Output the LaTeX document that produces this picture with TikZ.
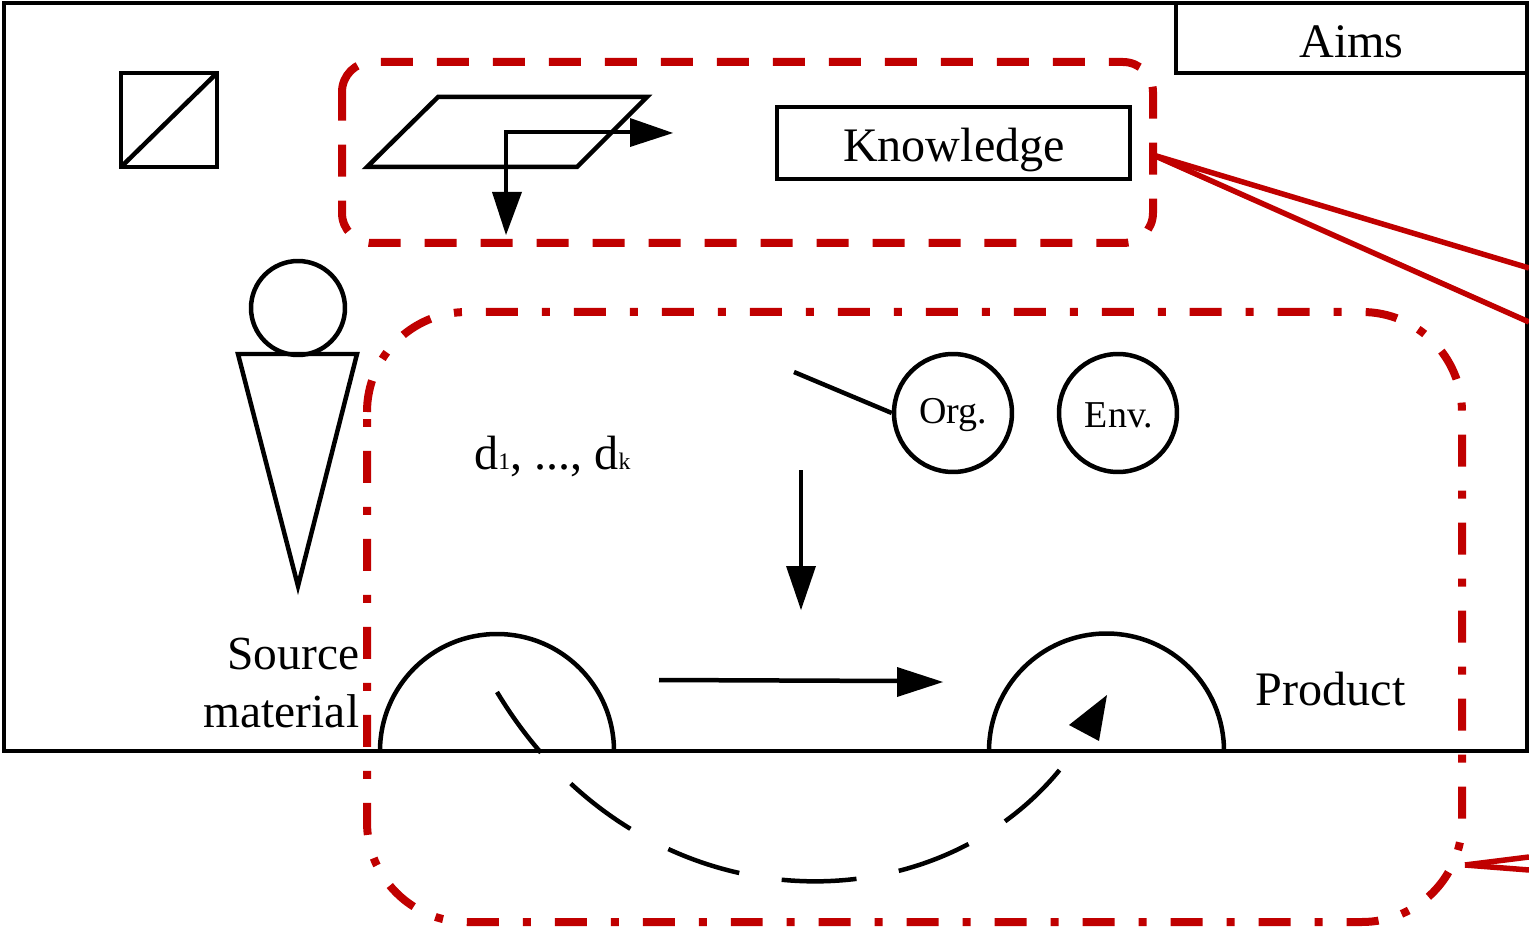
\documentclass[tikz,border=0pt]{standalone}
\usepackage{fontspec}
\setmainfont{Liberation Serif}
\tikzset{
  boxline/.style={draw=black,line width=0.09cm},
  dashbox/.style={draw=redline,line width=0.16cm,dash pattern=on 0.64cm off 0.48cm},
  dotbox/.style={draw=redline,line width=0.16cm,dash pattern=on 0.64cm off 0.48cm on 0.16cm off 0.48cm},
  redlead/.style={draw=redline,line width=0.11cm},
  bigtext/.style={font=\fontsize{27.4}{33}\selectfont},
  sidetext/.style={font=\fontsize{27}{33}\selectfont},
  smalltext/.style={font=\fontsize{21.6}{25}\selectfont}
}
\definecolor{redline}{RGB}{192,0,0}
\newcommand{\subtext}[1]{{\fontsize{13.5}{13.5}\selectfont #1}}
\begin{document}
\begin{tikzpicture}[x=0.02cm,y=0.02cm]
\tikzstyle{every node}+=[inner sep=0pt]
\useasboundingbox (0,0) rectangle (1529,-929);
\node (frame) [boxline,minimum width=30.46cm,minimum height=14.96cm] at (765.5,-377) {};
\node (aims) [boxline,minimum width=7.02cm,minimum height=1.4cm] at (1351.5,-38) {};
\node (aimstext) [bigtext] at (1351.5,-42) {Aims};
\node (knowledge) [boxline,minimum width=7.06cm,minimum height=1.44cm] at (953.5,-143) {};
\node (knowledgetext) [bigtext] at (954,-150) {Knowledge};
\node (org) [boxline,circle,minimum size=2.36cm] at (953,-413) {};
\node (orgtext) [smalltext] at (953.5,-415) {Org.};
\node (env) [boxline,circle,minimum size=2.36cm] at (1118,-413) {};
\node (envtext) [smalltext] at (1119,-415) {Env.};
\node (head) [boxline,circle,minimum size=1.88cm] at (298,-308) {};
\node (source) [sidetext,align=right,anchor=east] at (359.5,-683) {Source\\material};
\node (steps) [bigtext,anchor=base west] at (474,-469) {d\subtext{1}, ..., d\subtext{k}};
\node (product) [bigtext] at (1330.5,-689) {Product};
% square and person
\draw [boxline] (121,-73) rectangle (217,-167);
\draw [boxline] (121,-167) -- (217,-73);
\draw [boxline] (238,-354) -- (357,-354) -- (298,-586) -- cycle;
% plane with its two arrows
\draw [boxline] (438,-97) -- (647,-97) -- (577,-167) -- (367,-167) -- cycle;
\coordinate (planeright) at (632,-132);
\coordinate (planedown) at (506,-194);
\draw [boxline] (planeright) -- (506,-132) -- (planedown);
\fill [black] (673,-133) -- (630,-118) -- (630,-147);
\fill [black] (506,-235) -- (492,-192) -- (522,-192);
% arrows in the work area
\coordinate (orgstart) at (794,-372);
\draw [boxline] (orgstart) -- (org.west);
\coordinate (downstart) at (801,-470);
\coordinate (downend) at (801,-568);
\draw [boxline] (downstart) -- (downend);
\fill [black] (801,-610) -- (786,-566) -- (816,-566);
\coordinate (flowstart) at (659,-680);
\coordinate (flowend) at (901,-681);
\draw [boxline] (flowstart) -- (flowend);
\fill [black] (943,-682) -- (897,-667) -- (897,-697);
% half circles
\draw [boxline] (380,-751) arc (180:0:117);
\draw [boxline] (989,-751) arc (180:0:117.5);
% return path
\coordinate (backstart) at (497,-692);
\coordinate (backend) at (1078,-745);
\draw [boxline,dash pattern=on 1.5cm off 0.86cm] (backstart) .. controls (645,-938) and (955,-932) .. (backend);
\fill [black] (1107,-695) -- (1069,-725) -- (1099,-741);
% red groups
\draw [dashbox] (342,-92) arc (180:90:30) -- (1123,-62) arc (90:0:30) -- (1153,-213) arc (0:-90:30) -- (372,-243) arc (-90:-180:30) -- cycle;
\draw [dotbox] (367,-412) arc (180:90:100) -- (1362,-312) arc (90:0:100) -- (1462,-822) arc (0:-90:100) -- (467,-922) arc (-90:-180:100) -- cycle;
\coordinate (knowfrom) at (1153,-155);
\coordinate (knowup) at (1529,-268);
\coordinate (knowlow) at (1529,-322);
\draw [redlead] (knowfrom) -- (knowup);
\draw [redlead] (knowfrom) -- (knowlow);
\coordinate (workfrom) at (1465,-865);
\coordinate (workup) at (1529,-857);
\coordinate (worklow) at (1529,-870);
\draw [redlead] (workfrom) -- (workup);
\draw [redlead] (workfrom) -- (worklow);
\end{tikzpicture}
\end{document}
